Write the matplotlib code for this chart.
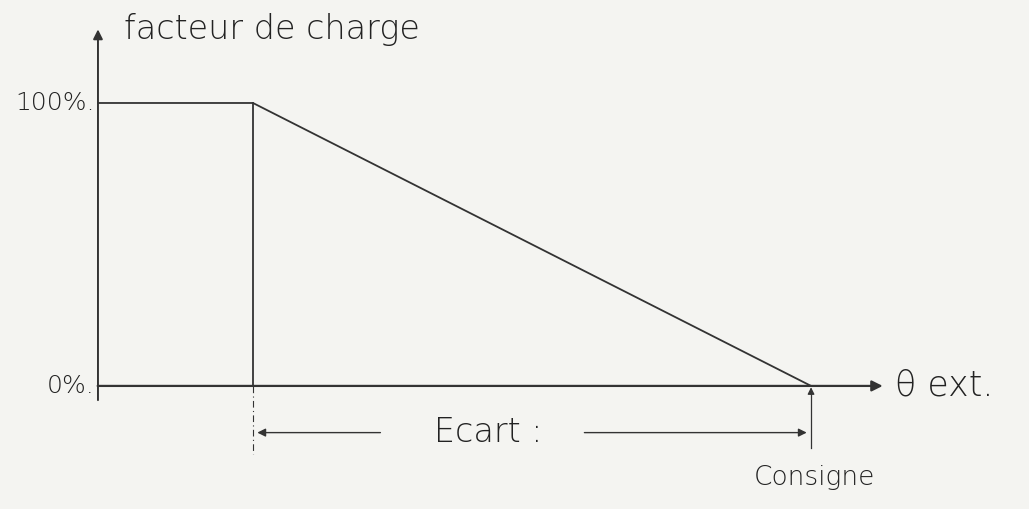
import matplotlib.pyplot as plt

# loi d'eau : facteur de charge en fonction de la temperature exterieure
theta_pts = [0, 5, 23]        # axe, debut de l'ecart, consigne
charge_pts = [100, 100, 0]    # facteur de charge (%)
theta_knee = 5
theta_consigne = 23
y_ticks = [100, 0]
y_tick_labels = ['100%.', '0%.']

ink = '#333333'
paper = '#f4f4f1'
plt.rcParams['font.family'] = ['DejaVu Sans']

fig = plt.figure(figsize=(10.29, 5.09), dpi=100, facecolor=paper)
ax = fig.add_axes([0, 0, 1, 1])
ax.set_facecolor(paper)
ax.set_xlim(-3.16, 30.03)
ax.set_ylim(-43.5, 136.4)
ax.axis('off')

# axes dessines a la main
ax.annotate('', xy=(0, 127), xytext=(0, -6),
            arrowprops=dict(arrowstyle='-|>', color=ink, lw=1.4, mutation_scale=14))
ax.annotate('', xy=(25.4, 0), xytext=(-0.1, 0),
            arrowprops=dict(arrowstyle='-|>', color=ink, lw=1.6, mutation_scale=16))

# courbe
ax.plot(theta_pts, charge_pts, color=ink, lw=1.3)
ax.plot([theta_knee, theta_knee], [100, 0], color=ink, lw=1.3)

# reperes
txt = dict(color='#222222', fontweight='light')
for yv, lab in zip(y_ticks, y_tick_labels):
    ax.text(-0.1, yv, lab, ha='right', va='center', fontsize=18, **txt)

ax.text(0.85, 126, 'facteur de charge', ha='left', va='center', fontsize=24, **txt)
ax.text(25.7, 0, 'θ ext.', ha='left', va='center', fontsize=25, **txt)

# ecart
ax.plot([theta_knee, theta_knee], [0, -24], color=ink, lw=0.8, ls=(0, (6, 3, 1, 3)))
ax.plot([theta_consigne, theta_consigne], [-3, -22], color=ink, lw=0.9)
ax.annotate('', xy=(theta_consigne, 0.5), xytext=(theta_consigne, -4),
            arrowprops=dict(arrowstyle='-|>', color=ink, lw=0.9, mutation_scale=10))
ax.annotate('', xy=(theta_knee + 0.05, -16.5), xytext=(9.2, -16.5),
            arrowprops=dict(arrowstyle='-|>', color=ink, lw=1.0, mutation_scale=12))
ax.annotate('', xy=(theta_consigne - 0.05, -16.5), xytext=(15.6, -16.5),
            arrowprops=dict(arrowstyle='-|>', color=ink, lw=1.0, mutation_scale=12))
ax.text(12.6, -16.5, 'Ecart :', ha='center', va='center', fontsize=24, **txt)
ax.text(theta_consigne + 0.1, -32.5, 'Consigne', ha='center', va='center', fontsize=19, **txt)

fig.savefig('out.png', dpi=100, facecolor=paper)
